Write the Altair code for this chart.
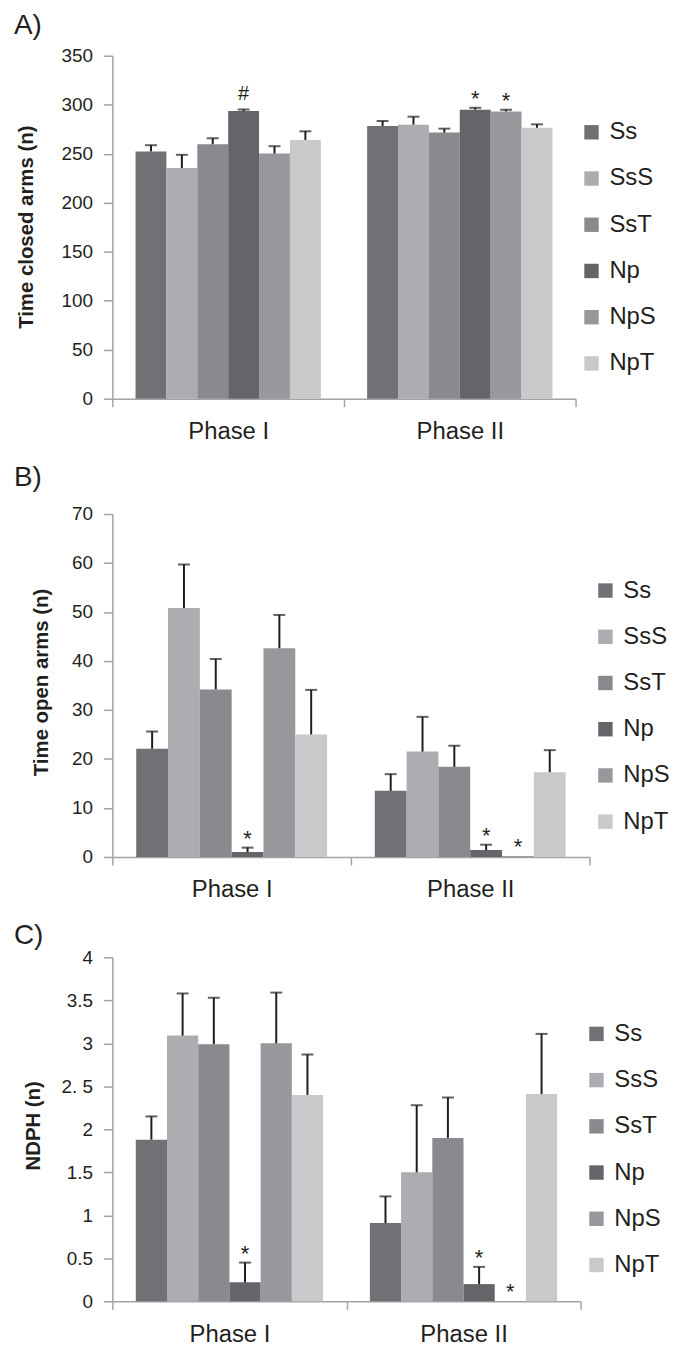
import altair as alt
import pandas as pd

groups = ["Ss", "SsS", "SsT", "Np", "NpS", "NpT"]
phases = ["Phase I", "Phase II"]
colors = ["#707175", "#acadb1", "#898a8e", "#646568", "#97989c", "#c8c9cb"]

# Panel A: time in closed arms
a_p1 = [252.3, 235.4, 259.7, 293.5, 250.2, 264.1]
a_p1_hi = [258.7, 248.9, 265.8, 295.2, 257.7, 272.9]
a_p1_mark = ["", "", "", "#", "", ""]
a_p2 = [278.3, 279.7, 271.6, 294.9, 293.2, 276.6]
a_p2_hi = [283.4, 287.8, 275.6, 296.9, 294.9, 280.0]
a_p2_mark = ["", "", "", "*", "*", ""]
a_ticks = [0, 50, 100, 150, 200, 250, 300, 350]

# Panel B: time in open arms
b_p1 = [22.1, 50.8, 34.2, 1.0, 42.6, 25.0]
b_p1_hi = [25.6, 59.7, 40.4, 1.9, 49.4, 34.1]
b_p1_mark = ["", "", "", "*", "", ""]
b_p2 = [13.5, 21.5, 18.4, 1.4, 0.2, 17.3]
b_p2_hi = [16.9, 28.6, 22.7, 2.5, None, 21.8]
b_p2_mark = ["", "", "", "*", "*", ""]
b_ticks = [0, 10, 20, 30, 40, 50, 60, 70]

# Panel C: NDPH
c_p1 = [1.88, 3.09, 2.99, 0.22, 3.0, 2.40]
c_p1_hi = [2.15, 3.58, 3.53, 0.45, 3.59, 2.87]
c_p1_mark = ["", "", "", "*", "", ""]
c_p2 = [0.91, 1.50, 1.90, 0.20, 0.0, 2.41]
c_p2_hi = [1.22, 2.28, 2.37, 0.40, None, 3.11]
c_p2_mark = ["", "", "", "*", "*", ""]
c_ticks = [0, 0.5, 1, 1.5, 2, 2.5, 3, 3.5, 4]

FONT = "Liberation Sans"
AXIS_GRAY = "#a3a3a3"
TEXT = "#231f20"


def make_df(p1, p1hi, p1m, p2, p2hi, p2m):
    rows = []
    for ph, vals, his, marks in [(phases[0], p1, p1hi, p1m), (phases[1], p2, p2hi, p2m)]:
        for g, v, h, m in zip(groups, vals, his, marks):
            rows.append({"phase": ph, "group": g, "value": v, "hi": h, "mark": m})
    return pd.DataFrame(rows)


def panel(letter, df, ymax, ticks, ytitle, width, height, top_gap, title_offset,
          title_x, title_y, legend_x, label_expr="'' + datum.value"):
    base = alt.Chart(df)
    X = alt.X("phase:N", sort=phases, title=None,
              scale=alt.Scale(paddingInner=0, paddingOuter=0),
              axis=alt.Axis(labelAngle=0, labelFontSize=24, labelColor=TEXT,
                            labelFont=FONT, labelPadding=13, tickSize=8,
                            tickColor=AXIS_GRAY, tickWidth=1.5,
                            domainColor=AXIS_GRAY, domainWidth=1.5,
                            tickBand="extent", grid=False))
    XO = alt.XOffset("group:N", sort=groups,
                     scale=alt.Scale(domain=groups, paddingInner=0, paddingOuter=0.75))
    yaxis = dict(values=ticks, title=ytitle, titleFontSize=20.5, titleFont=FONT,
                 titleFontWeight="bold", titleColor=TEXT, titleX=title_x,
                 titleY=title_y + top_gap, titleBaseline="alphabetic", titleAngle=270,
                 labelFontSize=19, labelFont=FONT, labelColor=TEXT,
                 labelPadding=11, tickSize=9, tickColor=AXIS_GRAY,
                 tickWidth=1.5, domainColor=AXIS_GRAY, domainWidth=1.5,
                 grid=False, labelExpr=label_expr)
    total_h = height + top_gap
    yscale = alt.Scale(domain=[0, ymax], nice=False, zero=True, range=[total_h, top_gap])

    def Yf(field):
        return alt.Y(field, scale=yscale, axis=alt.Axis(**yaxis))

    bars = base.mark_bar().encode(
        x=X, xOffset=XO, y=Yf("value:Q"),
        color=alt.Color("group:N", sort=groups,
                        scale=alt.Scale(domain=groups, range=colors),
                        legend=alt.Legend(orient="none", legendX=legend_x,
                                          legendY=65 + top_gap,
                                          title=None, symbolType="square",
                                          symbolSize=210, symbolStrokeWidth=0,
                                          labelFontSize=24, labelFont=FONT,
                                          labelColor=TEXT, labelOffset=6,
                                          rowPadding=22.5, padding=0)),
    )
    valid = base.transform_filter("isValid(datum.hi)")
    err = valid.mark_rule(color="#1e1e1e", strokeWidth=2).encode(
        x=X, xOffset=XO, y=Yf("value:Q"), y2="hi:Q")
    cap = valid.mark_tick(color="#1e1e1e", thickness=2, size=12).encode(
        x=X, xOffset=XO, y=Yf("hi:Q"))
    top = base.transform_calculate(top="isValid(datum.hi) ? datum.hi : datum.value")
    hash_t = top.transform_filter("datum.mark == '#'").mark_text(
        fontSize=20, font=FONT, color=TEXT, baseline="alphabetic", dy=-10).encode(
        x=X, xOffset=XO, y=Yf("top:Q"), text="mark:N")
    star_t = top.transform_filter("datum.mark == '*'").mark_text(
        fontSize=22, font=FONT, color=TEXT, baseline="alphabetic", dy=-2).encode(
        x=X, xOffset=XO, y=Yf("top:Q"), text="mark:N")

    return alt.layer(bars, err, cap, hash_t, star_t).properties(
        width=width, height=total_h,
        title=alt.TitleParams(letter, anchor="start", frame="group", fontSize=28,
                              font=FONT, fontWeight="normal", color=TEXT,
                              baseline="top", offset=title_offset, dx=-99),
    )


dfa = make_df(a_p1, a_p1_hi, a_p1_mark, a_p2, a_p2_hi, a_p2_mark)
dfb = make_df(b_p1, b_p1_hi, b_p1_mark, b_p2, b_p2_hi, b_p2_mark)
dfc = make_df(c_p1, c_p1_hi, c_p1_mark, c_p2, c_p2_hi, c_p2_mark)

A = panel("A)", dfa, 350, a_ticks, "Time closed arms (n)", 466, 345, 0, 7, -80, 172, 470)
B = panel("B)", dfb, 70, b_ticks, "Time open arms (n)", 480, 345, 15, 7, -65, 169, 484)
C = panel("C)", dfc, 4, c_ticks, "NDPH (n)", 471, 346, 0, -2, -73, 169, 475,
          label_expr="datum.value == 2.5 ? '2. 5' : '' + datum.value")

chart = alt.vconcat(A, B, C, spacing=101, bounds="flush").resolve_scale(
    color="independent", x="independent", y="independent", xOffset="independent"
).resolve_legend(color="independent").properties(
    padding={"left": 6, "top": 0, "right": 5, "bottom": 5}, background="white"
).configure_view(stroke=None)

chart.save("out.html", embed_options={"renderer": "svg", "actions": False})
